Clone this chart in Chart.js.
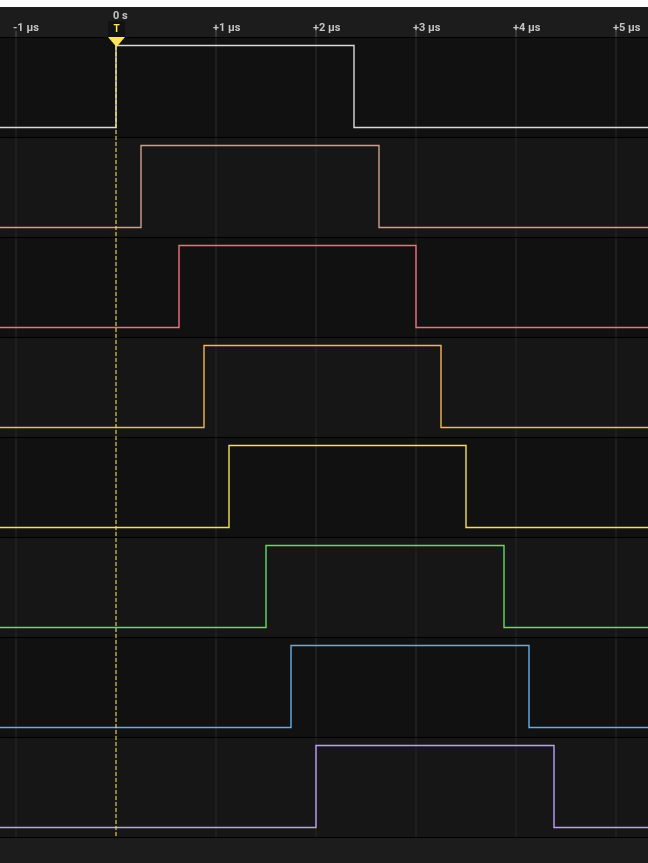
<!DOCTYPE html>
<html>
<head>
<meta charset="utf-8">
<script src="https://cdn.jsdelivr.net/npm/chart.js@4.4.1/dist/chart.umd.min.js"></script>
<style>
html,body{margin:0;padding:0;background:#ffffff;overflow:hidden}
#wrap{width:648px;height:863px;position:relative}
canvas{display:block}
</style>
</head>
<body>
<div id="wrap"><canvas id="c" width="648" height="863"></canvas></div>
<script>
// ---- data ----
const channels = ['D0', 'D1', 'D2', 'D3', 'D4', 'D5', 'D6', 'D7'];
const riseTimes = [0.00, 0.25, 0.63, 0.88, 1.13, 1.50, 1.75, 2.00];   // µs
const fallTimes = [2.38, 2.63, 3.00, 3.25, 3.50, 3.88, 4.13, 4.38];   // µs
const tickValues = [-1, 0, 1, 2, 3, 4, 5];
const tickLabels = ['-1 µs', '0 s', '+1 µs', '+2 µs', '+3 µs', '+4 µs', '+5 µs'];
const triggerTime = 0;
const viewStart = -1.16;
const viewEnd = 5.32;
const channelColors = ['#d9d9d9', '#c9a18c', '#f2707c', '#f7b25c', '#f2e055', '#5fdc6a', '#60aef0', '#b9a2f5'];

// map a logic level (0/1) of channel i onto the stacked row axis
const HIGH_POS = 0.085, LOW_POS = 0.905;
function levelY(i, level) { return i + (level ? HIGH_POS : LOW_POS); }

const datasets = [];
// trigger line (drawn on top)
datasets.push({
  label: 'Trigger',
  data: [{x: triggerTime, y: 0.09}, {x: triggerTime, y: channels.length}],
  borderColor: '#ffe45c',
  borderWidth: 1,
  borderDash: [4, 2],
  pointRadius: 0,
  order: -1,
  clip: false
});
channels.forEach((name, i) => {
  datasets.push({
    label: name,
    data: [
      {x: viewStart, y: levelY(i, 0)},
      {x: riseTimes[i], y: levelY(i, 0)},
      {x: riseTimes[i], y: levelY(i, 1)},
      {x: fallTimes[i], y: levelY(i, 1)},
      {x: fallTimes[i], y: levelY(i, 0)},
      {x: viewEnd, y: levelY(i, 0)}
    ],
    borderColor: channelColors[i],
    borderWidth: 1.4,
    pointRadius: 0,
    tension: 0,
    fill: false,
    clip: false,
    order: i
  });
});

const LABEL_FONT = {family: 'Roboto, sans-serif', weight: 'bold', size: 11, lineHeight: 12 / 11};

const bgPlugin = {
  id: 'logicBg',
  beforeDraw(chart) {
    const {ctx, chartArea: a, scales: {y}} = chart;
    ctx.save();
    ctx.fillStyle = '#ffffff';
    ctx.fillRect(0, 0, chart.width, 7);
    ctx.fillStyle = '#1c1c1c';
    ctx.fillRect(0, 7, chart.width, chart.height - 7);
    for (let i = 0; i < channels.length; i++) {
      const t = y.getPixelForValue(i), b = y.getPixelForValue(i + 1);
      ctx.fillStyle = i % 2 ? '#161616' : '#111111';
      ctx.fillRect(a.left, t, a.right - a.left, b - t);
    }
    ctx.restore();
  },
  afterDraw(chart) {
    const {ctx, chartArea: a, scales: {x}} = chart;
    const px = Math.round(x.getPixelForValue(triggerTime)) + 0.5;
    ctx.save();
    ctx.fillStyle = '#121212';
    ctx.fillRect(px - 8.5, a.top - 16, 17, 16);
    ctx.fillStyle = '#ffe45c';
    ctx.font = 'bold 10px Roboto, sans-serif';
    ctx.textAlign = 'center';
    ctx.textBaseline = 'middle';
    ctx.fillText('T', px, a.top - 8);
    ctx.beginPath();
    ctx.moveTo(px - 8.5, a.top);
    ctx.lineTo(px + 8.5, a.top);
    ctx.lineTo(px, a.top + 10);
    ctx.closePath();
    ctx.fill();
    ctx.restore();
  }
};

new Chart(document.getElementById('c'), {
  type: 'line',
  data: {datasets},
  options: {
    responsive: false,
    animation: false,
    devicePixelRatio: 1,
    layout: {padding: {top: 7, bottom: 26, left: 0, right: 0}},
    plugins: {legend: {display: false}, tooltip: {enabled: false}},
    scales: {
      x: {
        type: 'linear',
        position: 'top',
        min: viewStart,
        max: viewEnd,
        afterBuildTicks: s => { s.ticks = tickValues.map(v => ({value: v})); },
        afterFit: s => { s.height = 30; },
        border: {display: false},
        grid: {color: '#1e1e1e', lineWidth: 2, tickColor: '#3a3a3a', tickLength: 6, drawTicks: true},
        ticks: {
          align: 'start',
          labelOffset: -3,
          padding: -3,
          autoSkip: false,
          maxRotation: 0,
          color: '#c4c4c4',
          font: LABEL_FONT,
          callback: (v) => {
            const lbl = tickLabels[tickValues.indexOf(v)];
            return v === triggerTime ? [lbl, ''] : ['', lbl];
          }
        }
      },
      y: {
        type: 'linear',
        min: 0,
        max: channels.length,
        reverse: true,
        afterBuildTicks: s => { s.ticks = channels.map((c, i) => ({value: i})).concat([{value: channels.length}]); },
        afterFit: s => { s.width = 0; },
        border: {display: false},
        grid: {color: '#000000', lineWidth: 1, drawTicks: false},
        ticks: {display: false}
      }
    }
  },
  plugins: [bgPlugin]
});
</script>
</body>
</html>
